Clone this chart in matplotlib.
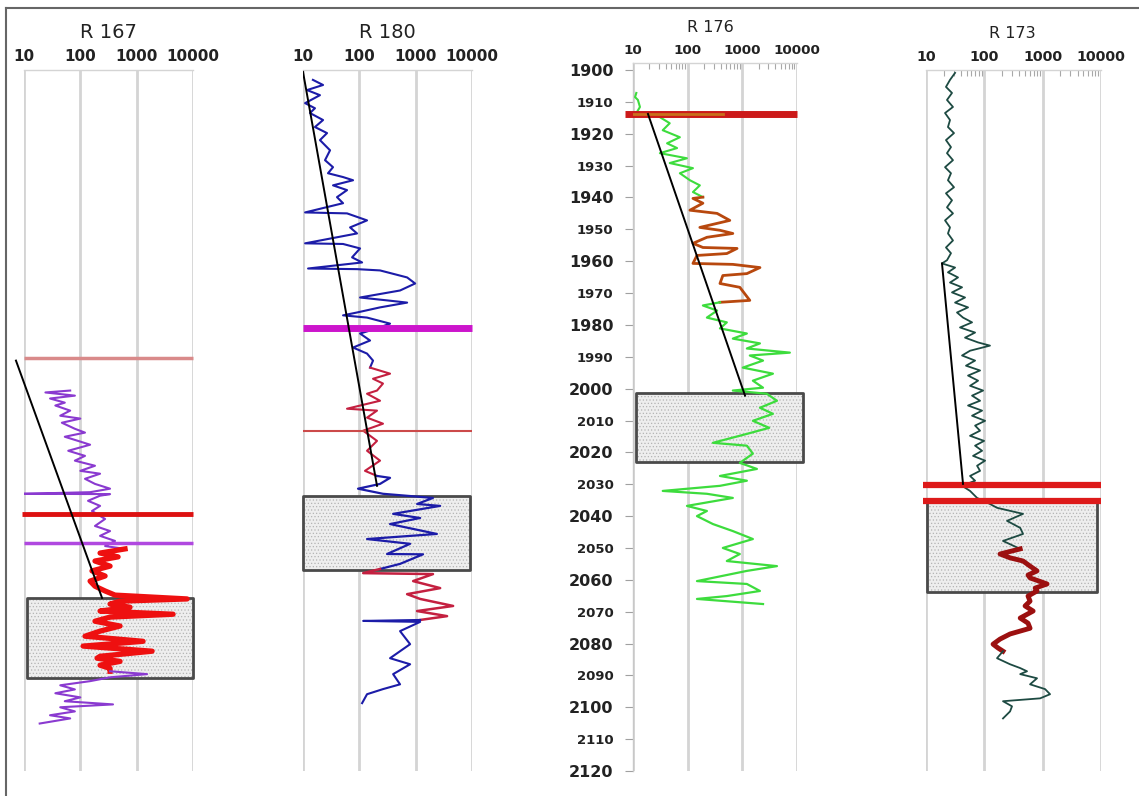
import numpy as np
import matplotlib
matplotlib.use('Agg')
import matplotlib.pyplot as plt
from matplotlib.patches import Rectangle
from matplotlib.lines import Line2D
from matplotlib.ticker import LogLocator, NullFormatter

plt.rcParams['font.family'] = ['DejaVu Sans']
plt.rcParams['hatch.linewidth'] = 0.5

W, H = 1139, 796

x_ticks = [10, 100, 1000, 10000]
x_tick_labels = ['10', '100', '1000', '10000']
depth_ticks = list(range(1900, 2121, 10))
well_names = ['R 167', 'R 180', 'R 176', 'R 173']

# ---------------- R 167 ----------------
r167_upper_depth = [2000.6, 2001.2, 2002.2, 2003.1, 2004.4, 2005.3, 2006.9, 2008.5, 2009.4, 2010.7,
                    2012.6, 2013.8, 2015.1, 2016.4, 2017.6, 2019.5, 2021.1, 2022.6, 2024.2, 2025.8,
                    2026.7, 2028.3, 2029.9, 2031.4, 2032.5, 2033.0, 2033.1, 2033.6, 2035.2, 2036.8,
                    2038.4, 2040.9, 2043.1, 2044.7, 2046.2, 2047.8, 2049.4, 2050.3]
r167_upper_res = [66, 24, 80, 29, 53, 36, 66, 44, 100, 47,
                  80, 121, 53, 91, 149, 61, 121, 80, 182, 100,
                  224, 121, 182, 337, 149, 10, 337, 224, 137, 224,
                  161, 275, 182, 337, 224, 413, 275, 622]
r167_pay_depth = [2050.3, 2051.6, 2052.8, 2054.1, 2055.7, 2057.2, 2058.8, 2060.4, 2062.0, 2063.5,
                  2064.8, 2066.0, 2066.7, 2067.6, 2068.6, 2069.8, 2070.8, 2071.7, 2073.0, 2074.5,
                  2076.1, 2077.7, 2079.3, 2080.8, 2082.4, 2084.0, 2084.6, 2085.6, 2086.8, 2087.8, 2088.7]
r167_pay_res = [622, 224, 468, 182, 337, 161, 275, 149, 182, 275,
                413, 7850, 507, 337, 763, 224, 4430, 337, 182, 507,
                224, 121, 1300, 112, 1880, 224, 198, 507, 224, 337, 337]
r167_lower_depth = [2088.7, 2089.6, 2090.6, 2091.8, 2093.1, 2094.4, 2095.6, 2096.9, 2098.1, 2099.1,
                    2100.0, 2101.3, 2102.5, 2103.5, 2105.1]
r167_lower_res = [337, 1530, 337, 149, 44, 80, 36, 100, 53, 380, 44, 80, 29, 66, 19]
r167_trend_depth = [1991.2, 2065.7]
r167_trend_res = [7.2, 243]
r167_marker_depth = [1990.3, 2039.3, 2048.4]
r167_box_depth = [2065.7, 2090.9]

# ---------------- R 180 ----------------
r180_blue1_depth = [1903.1, 1904.7, 1906.3, 1907.9, 1910.4, 1912.0, 1913.5, 1915.7, 1917.9, 1919.8,
                    1922.0, 1925.2, 1928.3, 1930.5, 1932.4, 1933.6, 1934.6, 1936.2, 1937.7, 1939.9,
                    1941.8, 1944.7, 1945.0, 1947.2, 1949.4, 1951.3, 1954.4, 1954.6, 1956.0, 1958.8,
                    1960.4, 1962.3, 1962.5, 1962.9, 1965.1, 1967.0, 1969.2, 1971.4, 1972.3, 1973.0,
                    1974.5, 1976.1, 1977.0, 1977.7, 1979.6, 1981.1, 1982.7, 1984.9, 1987.1, 1989.0,
                    1991.2, 1993.4]
r180_blue1_res = [15.0, 22.7, 11.8, 20.0, 10.9, 16.3, 13.3, 22.7, 16.3, 26.7,
                  20.0, 30.2, 24.6, 34.1, 27.8, 51.4, 77.4, 34.1, 60.5, 40.1,
                  51.4, 10.9, 60.5, 137, 68.5, 91.0, 10.9, 51.4, 103, 74.3,
                  112, 12.3, 91.0, 233, 705, 979, 528, 103, 310, 705,
                  233, 91.0, 51.4, 137, 351, 206, 103, 155, 77.4, 137,
                  175, 155]
r180_red1_depth = [1993.4, 1995.3, 1996.9, 1998.4, 2000.6, 2001.6, 2003.8, 2006.3, 2006.9, 2009.1,
                   2011.0, 2013.2, 2016.4, 2019.5, 2022.6, 2025.8, 2027.4]
r180_red1_res = [155, 351, 175, 263, 206, 137, 233, 60.5, 206, 137,
                 263, 117, 206, 137, 233, 126, 206]
r180_blue2_depth = [2027.4, 2028.0, 2029.9, 2031.4, 2033.0, 2034.3, 2036.2, 2036.8, 2039.3, 2040.6,
                    2042.5, 2045.6, 2047.2, 2048.7, 2051.9, 2052.0, 2055.0, 2056.6]
r180_blue2_res = [206, 351, 233, 94.8, 263, 2030, 1060, 2720, 398, 1200,
                  351, 2380, 137, 797, 310, 1350, 528, 233]
r180_red2_depth = [2056.6, 2057.9, 2058.2, 2060.4, 2062.6, 2064.5, 2066.0, 2068.2, 2069.8, 2071.4, 2072.6]
r180_red2_res = [233, 117, 2030, 901, 2720, 705, 1200, 4620, 1060, 3610, 1200]
r180_blue3_depth = [2072.6, 2072.9, 2073.2, 2076.1, 2080.2, 2084.6, 2086.5, 2089.6, 2092.8, 2094.3,
                    2095.9, 2098.7]
r180_blue3_res = [1200, 117, 1200, 528, 797, 351, 797, 398, 528, 263, 137, 112]
r180_trend_depth = [1900.6, 2030.5]
r180_trend_res = [10, 206]
r180_marker_depth = [1981.1, 2013.2]
r180_box_depth = [2033.7, 2056.9]

# ---------------- R 176 ----------------
r176_green1_depth = [1907.2, 1908.5, 1909.4, 1911.6, 1913.0]
r176_green1_res = [11.5, 10.9, 12.3, 13.4, 12.0]
r176_green2_depth = [1914.8, 1916.7, 1918.9, 1921.1, 1923.0, 1924.5, 1926.1, 1927.7, 1929.2, 1930.8,
                     1932.4, 1934.6, 1936.2, 1938.3, 1939.9]
r176_green2_res = [31, 47, 35, 72, 42, 64, 31, 97, 47, 125, 72, 110, 167, 125, 190]
r176_brown_depth = [1939.9, 1940.3, 1941.8, 1944.0, 1945.0, 1947.2, 1949.4, 1950.3, 1951.3, 1952.5,
                    1954.4, 1955.7, 1956.0, 1957.6, 1958.2, 1960.7, 1961.0, 1962.0, 1963.9, 1964.5,
                    1967.0, 1968.2, 1972.3, 1972.9]
r176_brown_res = [190, 125, 190, 110, 345, 590, 167, 390, 670, 225,
                  125, 190, 800, 520, 148, 125, 670, 2100, 1210, 440,
                  390, 900, 1370, 390]
r176_green3_depth = [1972.9, 1973.9, 1975.5, 1977.7, 1979.2, 1981.1, 1982.7, 1984.3, 1985.8, 1987.4,
                     1988.7, 1989.6, 1991.2, 1993.4, 1995.3, 1997.5, 1999.7, 2000.6, 2001.6, 2003.8,
                     2006.0, 2007.9, 2010.1, 2012.3, 2014.2, 2017.0, 2017.9, 2020.4, 2023.3, 2025.2,
                     2027.4, 2028.9, 2030.5, 2032.1, 2033.0, 2034.3, 2036.8, 2038.4, 2040.0, 2042.5,
                     2044.7, 2047.2, 2050.0, 2051.9, 2054.1, 2055.7, 2057.2, 2060.4, 2061.3, 2063.5,
                     2065.1, 2066.0, 2067.6]
r176_green3_res = [390, 190, 345, 225, 520, 390, 1210, 670, 2100, 1210,
                   7400, 1370, 2390, 1020, 3630, 1560, 2390, 670, 2800, 4300,
                   2100, 3630, 1560, 3100, 1210, 290, 1210, 1560, 900, 1850,
                   390, 1210, 390, 35, 225, 670, 97, 225, 148, 290,
                   670, 1560, 440, 900, 520, 4300, 1210, 148, 1210, 2100,
                   520, 148, 2390]
r176_spike_depth = [1913.8, 1913.8]
r176_spike_res = [10, 440]
r176_trend_depth = [1913.8, 2002.2]
r176_trend_res = [18.8, 1120]
r176_marker_depth = [1913.8]
r176_box_depth = [2001.3, 2023.0]

# ---------------- R 173 ----------------
r173_upper_depth = [1900.9, 1903.1, 1905.3, 1907.2, 1909.4, 1911.6, 1913.5, 1915.7, 1917.9, 1919.8,
                    1922.0, 1924.2, 1926.1, 1928.3, 1930.5, 1932.4, 1934.6, 1936.8, 1938.7, 1940.9,
                    1943.1, 1945.0, 1947.2, 1949.4, 1951.3, 1953.5, 1955.7, 1957.5, 1959.7, 1960.7,
                    1962.0, 1963.5, 1965.1, 1966.7, 1968.2, 1969.8, 1971.4, 1973.0, 1974.5, 1976.1,
                    1977.7, 1979.2, 1980.8, 1982.4, 1984.0, 1985.5, 1986.5, 1988.1, 1989.6, 1991.2,
                    1992.8, 1994.3, 1995.9, 1997.5, 1999.1, 2000.6, 2002.2, 2003.8, 2005.3, 2006.9,
                    2008.5, 2010.1, 2011.6, 2013.2, 2014.8, 2016.4, 2017.9, 2019.5, 2021.1, 2022.6,
                    2024.2, 2025.8, 2027.4, 2028.9, 2030.5, 2032.1, 2034.3, 2036.2, 2037.4, 2039.3,
                    2041.5, 2043.7, 2045.6, 2047.8, 2050.3]
r173_upper_res = [31.5, 25.8, 22.0, 27.9, 22.9, 29.0, 21.2, 25.8, 23.8, 30.2,
                  22.0, 26.8, 22.9, 29.0, 21.2, 26.8, 23.8, 30.2, 22.0, 27.9,
                  22.9, 29.0, 21.2, 25.8, 23.8, 29.0, 22.0, 26.8, 22.9, 18.8,
                  31.5, 23.8, 35.4, 25.8, 41.5, 27.9, 46.7, 31.5, 52.6, 34.0,
                  43.1, 61.6, 38.3, 69.4, 46.7, 78.1, 125, 56.9, 41.5, 69.4,
                  48.5, 84.5, 52.6, 78.1, 56.9, 95.2, 61.6, 84.5, 52.6, 91.5,
                  61.6, 103, 69.4, 84.5, 56.9, 99.0, 69.4, 91.5, 64.1, 103,
                  75.1, 84.5, 56.9, 69.4, 41.5, 56.9, 75.1, 125, 165, 461,
                  245, 412, 461, 209, 412]
r173_pay_depth = [2050.3, 2051.9, 2053.1, 2054.1, 2055.7, 2057.2, 2058.5, 2059.4, 2061.3, 2062.6,
                  2063.5, 2065.1, 2066.7, 2068.2, 2069.8, 2072.0, 2073.6, 2075.2, 2077.0, 2078.6,
                  2080.2, 2081.4, 2082.4]
r173_pay_res = [412, 186, 276, 461, 608, 800, 561, 608, 1190, 743,
                800, 561, 608, 499, 686, 412, 561, 608, 276, 186,
                141, 172, 209]
r173_lower_depth = [2082.4, 2084.6, 2086.5, 2087.7, 2088.7, 2089.6, 2090.9, 2092.8, 2094.3, 2095.9,
                    2097.2, 2098.1, 2099.7, 2101.3, 2103.5]
r173_lower_res = [209, 165, 276, 412, 539, 412, 800, 608, 1100, 1340,
                  904, 209, 298, 276, 209]
r173_trend_depth = [1960.7, 2029.9]
r173_trend_res = [18.8, 43.1]
r173_marker_depth = [2030.2, 2035.2]
r173_box_depth = [2035.5, 2063.8]

# ---------------- figure ----------------
fig = plt.figure(figsize=(W / 100, H / 100), dpi=100)
fig.patch.set_facecolor('white')


def make_ax(left_px, right_px, top_px, bottom_px):
    return fig.add_axes([left_px / W, 1 - bottom_px / H,
                         (right_px - left_px) / W, (bottom_px - top_px) / H])


def setup(ax, ytop, tick_size):
    ax.set_xscale('log')
    ax.set_xlim(10, 10000)
    ax.set_ylim(2120, ytop)
    ax.set_facecolor('none')
    ax.xaxis.tick_top()
    ax.set_xticks(x_ticks)
    ax.set_xticklabels(x_tick_labels, fontweight='bold')
    ax.xaxis.set_minor_locator(LogLocator(base=10, subs=np.arange(2, 10)))
    ax.xaxis.set_minor_formatter(NullFormatter())
    ax.tick_params(axis='x', which='major', length=0, pad=4.5,
                   labelsize=tick_size, labelcolor='#222222')
    ax.tick_params(axis='x', which='minor', direction='in', length=4, width=0.8,
                   color='#a8a8a8', top=True, bottom=False)
    ax.grid(True, axis='x', which='major', color='#d4d4d4', lw=2.0)
    ax.set_axisbelow(True)
    for s in ['left', 'right', 'bottom']:
        ax.spines[s].set_visible(False)
    ax.spines['top'].set_color('#d4d4d4')
    ax.spines['top'].set_linewidth(1.0)
    ax.yaxis.set_visible(False)


def draw_box(ax, d0, d1, x0, x1):
    ax.add_patch(Rectangle((x0, d0), x1 - x0, d1 - d0, facecolor='#eeeeee',
                           edgecolor='#b4b4b4', hatch='.....', lw=0, zorder=1, clip_on=False))
    ax.add_patch(Rectangle((x0, d0), x1 - x0, d1 - d0, facecolor='none',
                           edgecolor='#4a4a4a', lw=2.0, joinstyle='round', zorder=2, clip_on=False))


def hline(ax, d, x0, x1, color, lw):
    ax.plot([x0, x1], [d, d], color=color, lw=lw, zorder=4, clip_on=False,
            solid_capstyle='butt')


# Panel 1 : R 167
ax1 = make_ax(24, 193, 70, 771)
setup(ax1, 1900, 11)
draw_box(ax1, r167_box_depth[0], r167_box_depth[1], 11.3, 10000)
hline(ax1, r167_marker_depth[0], 10, 10000, '#d98a8a', 2.5)
hline(ax1, r167_marker_depth[1], 9.2, 10000, '#dd1111', 3.5)
hline(ax1, r167_marker_depth[2], 10, 10000, '#b048e0', 2.5)
ax1.plot(r167_upper_res, r167_upper_depth, color='#8a3ad0', lw=1.5, zorder=3)
ax1.plot(r167_pay_res, r167_pay_depth, color='#ee1010', lw=3.8, zorder=3, solid_joinstyle='round')
ax1.plot(r167_lower_res, r167_lower_depth, color='#8a3ad0', lw=1.5, zorder=3)
ax1.plot(r167_trend_res, r167_trend_depth, color='black', lw=1.4, zorder=5, clip_on=False)

# Panel 2 : R 180
ax2 = make_ax(303, 472, 70, 771)
setup(ax2, 1900, 11)
draw_box(ax2, r180_box_depth[0], r180_box_depth[1], 10, 9240)
hline(ax2, r180_marker_depth[0], 10, 10000, '#cc15cc', 5)
hline(ax2, r180_marker_depth[1], 10, 10000, '#cc4a4a', 1.5)
ax2.plot(r180_blue1_res, r180_blue1_depth, color='#1c1ca8', lw=1.5, zorder=3)
ax2.plot(r180_red1_res, r180_red1_depth, color='#c42040', lw=1.5, zorder=3)
ax2.plot(r180_blue2_res, r180_blue2_depth, color='#1c1ca8', lw=1.6, zorder=3)
ax2.plot(r180_red2_res, r180_red2_depth, color='#c42040', lw=1.8, zorder=3)
ax2.plot(r180_blue3_res, r180_blue3_depth, color='#1c1ca8', lw=1.5, zorder=3)
ax2.plot(r180_trend_res, r180_trend_depth, color='black', lw=1.4, zorder=5)

# Panel 3 : R 176
ax3 = make_ax(633, 797, 63, 771)
setup(ax3, 1897.8, 9.7)
ax3.yaxis.set_visible(True)
ax3.spines['left'].set_visible(True)
ax3.spines['left'].set_color('#c8c8c8')
ax3.spines['left'].set_linewidth(1.0)
ax3.set_yticks(depth_ticks)
ax3.set_yticklabels([str(t) for t in depth_ticks], fontweight='bold')
ax3.tick_params(axis='y', length=6, width=0.8, color='#a0a0a0', pad=8, labelcolor='#222222')
for t, lab in zip(depth_ticks, ax3.get_yticklabels()):
    lab.set_fontsize(11.5 if (t // 10) % 2 == 0 else 9.5)
draw_box(ax3, r176_box_depth[0], r176_box_depth[1], 11.3, 12900)
hline(ax3, r176_marker_depth[0], 7.1, 10000, '#cc1a1a', 5)
ax3.plot(r176_spike_res, r176_spike_depth, color='#c8701c', lw=2, zorder=4)
ax3.plot(r176_green1_res, r176_green1_depth, color='#3ddc3d', lw=1.5, zorder=3)
ax3.plot(r176_green2_res, r176_green2_depth, color='#3ddc3d', lw=1.5, zorder=3)
ax3.plot(r176_brown_res, r176_brown_depth, color='#b8480e', lw=2.0, zorder=3)
ax3.plot(r176_green3_res, r176_green3_depth, color='#3ddc3d', lw=1.6, zorder=3)
ax3.plot(r176_trend_res, r176_trend_depth, color='black', lw=1.4, zorder=5)

# Panel 4 : R 173
ax4 = make_ax(926, 1101, 70, 771)
setup(ax4, 1900, 10.3)
draw_box(ax4, r173_box_depth[0], r173_box_depth[1], 10.4, 8580)
for d in r173_marker_depth:
    hline(ax4, d, 8.9, 10000, '#dd1a1a', 4.5)
ax4.plot(r173_upper_res, r173_upper_depth, color='#1d4a42', lw=1.3, zorder=3)
ax4.plot(r173_pay_res, r173_pay_depth, color='#9c1010', lw=3.5, zorder=3)
ax4.plot(r173_lower_res, r173_lower_depth, color='#1d4a42', lw=1.3, zorder=3)
ax4.plot(r173_trend_res, r173_trend_depth, color='black', lw=1.4, zorder=5)

# titles
for name, xc, yc, size in zip(well_names, [108, 387, 710, 1012], [33, 33, 28, 33],
                              [14, 14, 11.5, 11.5]):
    fig.text(xc / W, 1 - yc / H, name, ha='center', va='center', fontsize=size, color='#222222')

# outer frame (top and left edges)
fig.add_artist(Line2D([6 / W, 1.0], [1 - 8 / H, 1 - 8 / H], transform=fig.transFigure,
                      color='#666666', lw=1.5))
fig.add_artist(Line2D([6 / W, 6 / W], [0.0, 1 - 8 / H], transform=fig.transFigure,
                      color='#666666', lw=1.5))

fig.savefig('out.png', dpi=100, facecolor='white')
